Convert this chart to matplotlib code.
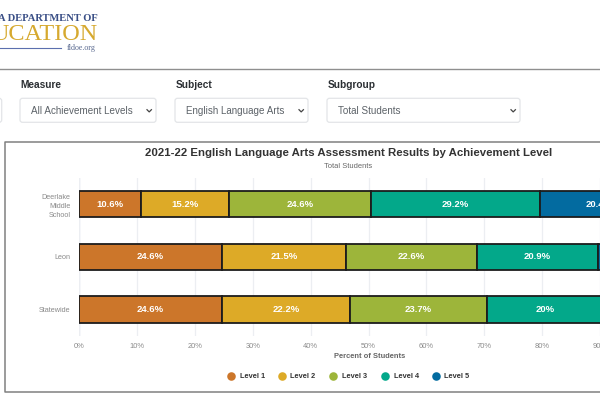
import matplotlib
matplotlib.use("Agg")
import matplotlib.pyplot as plt
from matplotlib.patches import FancyBboxPatch

plt.rcParams['font.family'] = ['Liberation Sans', 'DejaVu Sans']

categories = ["Deerlake\nMiddle\nSchool", "Leon", "Statewide"]
levels = ["Level 1", "Level 2", "Level 3", "Level 4", "Level 5"]
level_1 = [10.6, 24.6, 24.6]
level_2 = [15.2, 21.5, 22.2]
level_3 = [24.6, 22.6, 23.7]
level_4 = [29.2, 20.9, 20.0]
level_5 = [20.4, 10.4, 9.5]
labels_1 = ["10.6%", "24.6%", "24.6%"]
labels_2 = ["15.2%", "21.5%", "22.2%"]
labels_3 = ["24.6%", "22.6%", "23.7%"]
labels_4 = ["29.2%", "20.9%", "20%"]
labels_5 = ["20.4%", "10.4%", "9.5%"]
colors = ["#CC762A", "#DDAA27", "#9DB53A", "#03A88A", "#036BA0"]
x_ticks = [0, 10, 20, 30, 40, 50, 60, 70, 80, 90]
title = "2021-22 English Language Arts Assessment Results by Achievement Level"
subtitle = "Total Students"
x_label = "Percent of Students"

W, H = 600, 400
fig = plt.figure(figsize=(6, 4), dpi=100, facecolor="white")

# page layer, in pixel units
page = fig.add_axes([0, 0, 1, 1], zorder=0)
page.set_xlim(0, W)
page.set_ylim(H, 0)
page.axis("off")

page.plot([0, 600], [68.7, 68.7], color="#8f8f8f", lw=1.0)
page.text(98, 18.5, "A DEPARTMENT OF", family="Liberation Serif", fontsize=7.6,
          color="#3a4f86", ha="right", va="center", fontweight="bold")
page.text(98, 34.5, "UCATION", family="Liberation Serif", fontsize=17.5,
          color="#d6a92f", ha="right", va="center")
page.plot([0, 61], [48, 48], color="#5b6fae", lw=0.8)
page.text(96, 48.5, "fldoe.org", family="Liberation Serif", fontsize=5.8,
          color="#5a6a90", ha="right", va="center")

def box(x0, x1):
    page.add_patch(FancyBboxPatch((x0, 98.3), x1 - x0, 24,
                                  boxstyle="round,pad=0,rounding_size=2.5",
                                  fc="white", ec="#e3e5e8", lw=0.9))

def dropdown(x0, x1, label, value):
    box(x0, x1)
    page.text(x0 + 10.8, 110.5, value, fontsize=7.15, color="#5c6268", va="center")
    page.plot([x1 - 9, x1 - 6.8, x1 - 4.6], [109.7, 111.9, 109.7], color="#444444", lw=0.9)
    page.text(x0 + 0.5, 85.5, label, fontsize=7.3, fontweight="bold", color="#2b2f33", va="center")

box(-20, 1.7)
dropdown(20, 156, "Measure", "All Achievement Levels")
dropdown(175, 308, "Subject", "English Language Arts")
dropdown(327, 520, "Subgroup", "Total Students")

page.plot([640, 4.5, 4.5, 640], [141.5, 141.5, 392, 392], color="#808080", lw=1.1)
page.text(348.5, 152.5, title, fontsize=8.2, fontweight="bold", color="#333333",
          ha="center", va="center")
page.text(348.5, 166.5, subtitle, fontsize=5.4, color="#666666", ha="center", va="center")
page.text(370, 356, x_label, fontsize=5.45, fontweight="bold", color="#666666",
          ha="center", va="center")

legend_x = [231, 282, 333, 385, 436]
for name, col, lx in zip(levels, colors, legend_x):
    page.scatter([lx], [376], s=38, color=col, linewidths=0)
    page.text(lx + 8.5, 376, name, fontsize=5.3, fontweight="bold", color="#333333",
              va="center")

# chart layer
px_per_pct = 5.815
left, top, bottom = 79.3, 178, 335.7
ax = fig.add_axes([left / W, 1 - bottom / H, (W - left) / W, (bottom - top) / H], zorder=1)
ax.patch.set_alpha(0)
ax.set_xlim(0, (W - left) / px_per_pct)
ax.set_ylim(2.5, -0.5)
for s in ax.spines.values():
    s.set_visible(False)
ax.set_axisbelow(True)
ax.grid(axis="x", color="#eceef2", lw=0.9)
ax.axvline(0, color="#dfe5f0", lw=1.0, zorder=0.5)
ax.set_xticks(x_ticks, [f"{t}%" for t in x_ticks], clip_on=False)
ax.set_yticks(range(3), categories)
ax.tick_params(axis="x", length=0, labelsize=5.4, labelcolor="#8a8a8a", pad=5.3)
ax.tick_params(axis="y", length=0, labelsize=5.2, labelcolor="#8a8a8a", pad=6.2)
for t in ax.get_yticklabels():
    t.set_multialignment("right")
    t.set_linespacing(1.45)

y_pos = list(range(3))
series = [level_1, level_2, level_3, level_4, level_5]
texts = [labels_1, labels_2, labels_3, labels_4, labels_5]
start = [0.0, 0.0, 0.0]
for vals, labs, col in zip(series, texts, colors):
    bars = ax.barh(y_pos, vals, left=start, height=0.5, color=col,
                   edgecolor="#1c1c1c", linewidth=1.3)
    for y, v, s, lab in zip(y_pos, vals, start, labs):
        ax.text(s + v / 2, y, lab, color="white", fontsize=6.8, fontweight="bold",
                ha="center", va="center", clip_on=True)
    start = [s + v for s, v in zip(start, vals)]

fig.savefig("out.png", dpi=100, facecolor="white")
